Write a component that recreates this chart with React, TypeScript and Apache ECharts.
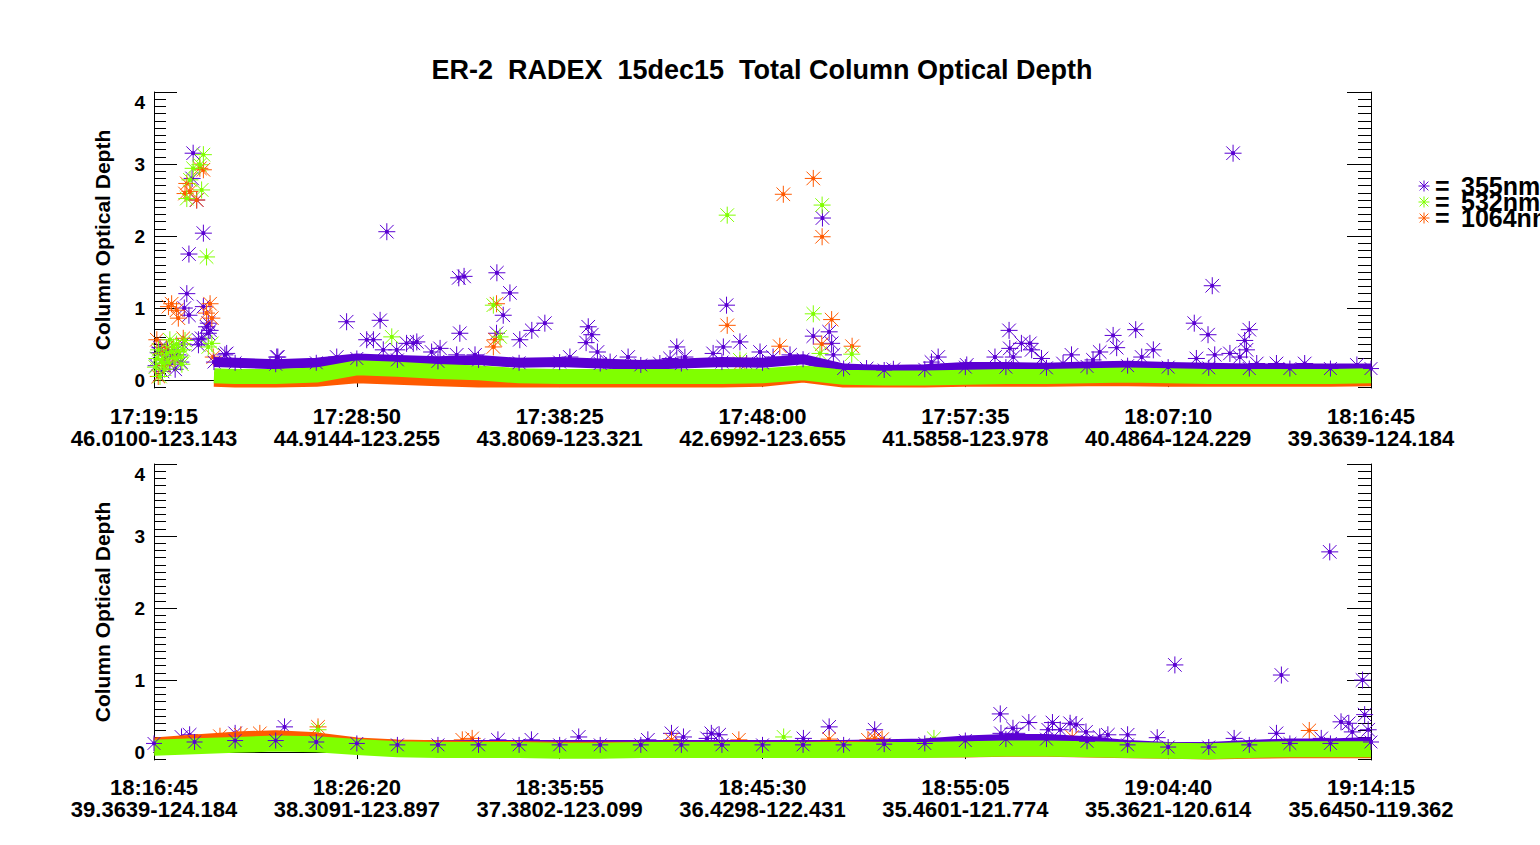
import React, { useEffect, useRef } from 'react';
import * as echarts from 'echarts';

const C355 = '#5a00d2';
const C532 = '#80ff00';
const C1064 = '#ff5a00';
const FONT = '"Liberation Sans", Arial, Helvetica, sans-serif';

const TITLE = 'ER-2  RADEX  15dec15  Total Column Optical Depth';
const Y_NAME = 'Column Optical Depth';
const LEGEND = ['355nm', '532nm', '1064nm'];

// x axis: seconds after panel start, one tick every 575 s
const X_SPAN = 3450;
const X_STEP = 575;
const p1Times = ['17:19:15', '17:28:50', '17:38:25', '17:48:00', '17:57:35', '18:07:10', '18:16:45'];
const p1Locs = ['46.0100-123.143', '44.9144-123.255', '43.8069-123.321', '42.6992-123.655', '41.5858-123.978', '40.4864-124.229', '39.3639-124.184'];
const p2Times = ['18:16:45', '18:26:20', '18:35:55', '18:45:30', '18:55:05', '19:04:40', '19:14:15'];
const p2Locs = ['39.3639-124.184', '38.3091-123.897', '37.3802-123.099', '36.4298-122.431', '35.4601-121.774', '35.3621-120.614', '35.6450-119.362'];

const yMajor = [0, 1, 2, 3, 4];

// dense traces (band centres), panel 1
const p1BandT = [170, 230, 345, 460, 575, 690, 805, 920, 1035, 1150, 1265, 1380, 1495, 1610, 1725, 1840, 1955, 2070, 2185, 2300, 2415, 2530, 2645, 2760, 2875, 2990, 3105, 3220, 3335, 3450];
const p1Band355 = [0.25, 0.24, 0.22, 0.24, 0.3, 0.28, 0.26, 0.28, 0.24, 0.25, 0.23, 0.21, 0.23, 0.25, 0.24, 0.29, 0.16, 0.14, 0.15, 0.18, 0.18, 0.17, 0.19, 0.2, 0.18, 0.17, 0.16, 0.16, 0.16, 0.16];
const p1Band532 = [0.06, 0.05, 0.05, 0.07, 0.17, 0.15, 0.12, 0.1, 0.06, 0.05, 0.05, 0.05, 0.05, 0.05, 0.06, 0.1, 0.04, 0.03, 0.03, 0.04, 0.05, 0.05, 0.06, 0.07, 0.06, 0.05, 0.05, 0.05, 0.05, 0.06];
const p1Band1064 = [0.01, 0.0, 0.0, 0.01, 0.06, 0.04, 0.02, 0.0, 0.0, 0.0, 0.0, 0.0, 0.0, 0.0, 0.01, 0.07, 0.0, 0.0, 0.0, 0.01, 0.01, 0.01, 0.02, 0.02, 0.01, 0.01, 0.01, 0.01, 0.01, 0.02];

// dense traces, panel 2
const p2BandT = [0, 115, 230, 345, 460, 575, 690, 805, 920, 1035, 1150, 1265, 1380, 1495, 1610, 1725, 1840, 1955, 2070, 2185, 2300, 2415, 2530, 2645, 2760, 2875, 2990, 3105, 3220, 3335, 3450];
const p2Band355 = [0.12, 0.14, 0.16, 0.16, 0.14, 0.12, 0.1, 0.1, 0.1, 0.1, 0.1, 0.1, 0.1, 0.1, 0.1, 0.1, 0.1, 0.1, 0.11, 0.12, 0.16, 0.18, 0.18, 0.15, 0.1, 0.07, 0.07, 0.1, 0.12, 0.12, 0.14];
const p2Band532 = [0.06, 0.08, 0.1, 0.12, 0.11, 0.07, 0.04, 0.03, 0.03, 0.03, 0.02, 0.02, 0.03, 0.03, 0.03, 0.03, 0.03, 0.03, 0.03, 0.03, 0.04, 0.05, 0.05, 0.04, 0.03, 0.02, 0.01, 0.03, 0.04, 0.04, 0.04];
const p2Band1064 = [0.1, 0.14, 0.18, 0.2, 0.17, 0.1, 0.07, 0.06, 0.05, 0.05, 0.04, 0.04, 0.04, 0.04, 0.04, 0.04, 0.04, 0.05, 0.04, 0.03, 0.03, 0.04, 0.04, 0.03, 0.02, 0.01, 0.0, 0.01, 0.02, 0.02, 0.02];

// individual points [seconds, optical depth], panel 1
const p1Pts355: [number, number][] = [
  [6, 0.2], [12, 0.38], [17, 0.45], [24, 0.12], [31, 0.3], [38, 0.42], [45, 0.22], [52, 0.33], [60, 0.15], [68, 0.35], [76, 0.25], [82, 0.5],
  [86, 1.0], [93, 1.2], [99, 0.9], [99, 1.75], [108, 2.8], [111, 3.15], [121, 2.5], [126, 0.49], [126, 0.56],
  [135, 0.58], [140, 1.02], [140, 2.04], [149, 0.74], [154, 0.65], [154, 0.79], [159, 0.69],
  [201, 0.35], [206, 0.37], [348, 0.32], [351, 0.32], [518, 0.32], [546, 0.81], [603, 0.56], [622, 0.56],
  [641, 0.83], [650, 0.42], [660, 2.06], [688, 0.42], [716, 0.51], [735, 0.51], [745, 0.53], [787, 0.39],
  [811, 0.44], [858, 0.35], [864, 1.42], [867, 0.65], [879, 1.44], [910, 0.35], [971, 0.65], [972, 1.49],
  [990, 0.9], [1009, 1.21], [1037, 0.56], [1071, 0.69], [1108, 0.79], [1179, 0.32], [1225, 0.52], [1231, 0.74],
  [1241, 0.63], [1257, 0.39], [1293, 0.25], [1344, 0.32], [1434, 0.23], [1463, 0.3], [1482, 0.46], [1505, 0.32],
  [1585, 0.37], [1614, 0.46], [1623, 1.04], [1661, 0.53], [1680, 0.23], [1718, 0.39], [1755, 0.32], [1803, 0.35],
  [1869, 0.61], [1895, 2.25], [1914, 0.67], [1921, 0.51], [1926, 0.35], [2020, 0.16], [2096, 0.15], [2204, 0.25],
  [2223, 0.32], [2304, 0.21], [2384, 0.32], [2424, 0.69], [2426, 0.44], [2436, 0.32], [2459, 0.51], [2483, 0.51],
  [2488, 0.42], [2516, 0.3], [2577, 0.23], [2601, 0.35], [2662, 0.28], [2681, 0.39], [2719, 0.62], [2729, 0.45],
  [2783, 0.7], [2800, 0.32], [2833, 0.42], [2949, 0.79], [2955, 0.3], [2988, 0.63], [3000, 1.31], [3007, 0.35],
  [3050, 0.37], [3059, 3.15], [3078, 0.32], [3092, 0.55], [3097, 0.42], [3105, 0.7], [3126, 0.23], [3182, 0.23],
  [3262, 0.23], [3410, 0.21],
];
const p1Pts532: [number, number][] = [
  [4, 0.18], [8, 0.3], [13, 0.42], [17, 0.05], [21, 0.28], [26, 0.23], [30, 0.15], [36, 0.37], [40, 0.25], [45, 0.56], [50, 0.4], [55, 0.46],
  [60, 0.3], [64, 0.5], [69, 0.4], [74, 0.32], [79, 0.22], [83, 0.42], [88, 0.55], [93, 2.52], [102, 2.78], [111, 2.94], [130, 2.99], [135, 2.64], [140, 3.13],
  [149, 1.71], [154, 0.46], [164, 0.51], [674, 0.6], [962, 1.04], [981, 0.6], [1625, 2.29], [1661, 0.28],
  [1869, 0.92], [1888, 0.37], [1894, 2.43], [1978, 0.36],
];
const p1Pts1064: [number, number][] = [
  [8, 0.56], [12, 0.05], [22, 0.37], [28, 0.2], [35, 0.45], [41, 1.02], [50, 1.06], [57, 0.3], [64, 0.97], [69, 0.86], [83, 0.58], [88, 2.59],
  [93, 2.73], [102, 2.62], [121, 2.5], [130, 2.94], [140, 2.92], [149, 0.93], [159, 1.06], [164, 0.86],
  [168, 0.32], [962, 0.46], [967, 0.56], [971, 1.06], [1625, 0.76], [1661, 0.23], [1774, 0.47], [1784, 2.58],
  [1869, 2.8], [1893, 0.5], [1894, 1.99], [1921, 0.84], [1979, 0.47],
];

// individual points, panel 2
const p2Pts355: [number, number][] = [
  [78, 0.21], [101, 0.24], [230, 0.26], [370, 0.35], [975, 0.17], [1070, 0.17], [1204, 0.21], [1400, 0.17],
  [1467, 0.26], [1501, 0.21], [1568, 0.19], [1580, 0.26], [1602, 0.24], [1841, 0.19], [1914, 0.35], [2043, 0.31],
  [2399, 0.53], [2401, 0.26], [2435, 0.33], [2446, 0.26], [2480, 0.41], [2535, 0.31], [2547, 0.41], [2569, 0.31],
  [2597, 0.4], [2614, 0.38], [2642, 0.28], [2681, 0.21], [2704, 0.24], [2760, 0.24], [2844, 0.2], [2894, 1.21],
  [3062, 0.19], [3182, 0.26], [3196, 1.07], [3309, 0.19], [3333, 2.78], [3365, 0.42], [3387, 0.4], [3397, 0.28],
  [3426, 1.0], [3432, 0.52], [3442, 0.31],
];
const p2Pts532: [number, number][] = [[465, 0.31], [1785, 0.21], [2211, 0.19]];
const p2Pts1064: [number, number][] = [
  [187, 0.22], [246, 0.24], [300, 0.26], [465, 0.35], [874, 0.17], [902, 0.19], [1467, 0.17], [1658, 0.17],
  [1914, 0.18], [2024, 0.17], [2043, 0.19], [2064, 0.18], [2603, 0.21], [3275, 0.3],
];

const STAR = 'path://M0,-10L0,10M-10,0L10,0M-8,-8L8,8M-8,8L8,-8M-1.6,-1.6L1.6,-1.6L1.6,1.6L-1.6,1.6Z';

const Y_MIN = -0.11;
const Y_MAX = 4;
const GRIDS = [
  { left: 154, top: 92, width: 1217, height: 296 },
  { left: 154, top: 464, width: 1217, height: 296 },
];

function buildOption() {
  const minorVals: number[] = [];
  for (let i = -1; i <= 40; i++) minorVals.push(i / 10);

  const black = { color: '#000', width: 1 };
  const xAxis: any[] = [];
  const yAxis: any[] = [];
  const labelsets = [
    [p1Times, p1Locs],
    [p2Times, p2Locs],
  ];
  GRIDS.forEach((_, g) => {
    const [times, locs] = labelsets[g];
    const base = {
      type: 'value', gridIndex: g, min: 0, max: X_SPAN, interval: X_STEP,
      splitLine: { show: false },
      axisLine: { show: true, lineStyle: black },
      axisTick: { show: true, inside: true, length: 7, lineStyle: black },
    };
    xAxis.push({
      ...base, position: 'bottom',
      axisLabel: {
        show: true, showMinLabel: true, showMaxLabel: true, hideOverlap: false,
        margin: g === 0 ? 17 : 16,
        color: '#000', fontFamily: FONT, fontWeight: 'bold', fontSize: 22, lineHeight: 22,
        formatter: (v: number) => {
          const i = Math.round(v / X_STEP);
          return times[i] + '\n' + locs[i];
        },
      },
    });
    xAxis.push({ ...base, position: 'top', axisLabel: { show: false } });

    const yb = { type: 'value', gridIndex: g, min: Y_MIN, max: Y_MAX, splitLine: { show: false } };
    yAxis.push({
      ...yb, position: 'left',
      axisLine: { show: true, lineStyle: black },
      axisTick: { show: true, inside: true, length: 23, lineStyle: black, customValues: yMajor },
      axisLabel: {
        show: true, customValues: yMajor, margin: 9, color: '#000', fontFamily: FONT,
        fontWeight: 'bold', fontSize: 19, lineHeight: 20,
        formatter: (v: number) => (v === 4 ? '\n4' : String(v)),
      },
    });
    yAxis.push({
      ...yb, position: 'left', axisLine: { show: false }, axisLabel: { show: false },
      axisTick: { show: true, inside: true, length: 12, lineStyle: black, customValues: minorVals },
    });
    yAxis.push({
      ...yb, position: 'right', axisLine: { show: true, lineStyle: black }, axisLabel: { show: false },
      axisTick: { show: true, inside: true, length: 24, lineStyle: black, customValues: yMajor },
    });
    yAxis.push({
      ...yb, position: 'right', axisLine: { show: false }, axisLabel: { show: false },
      axisTick: { show: true, inside: true, length: 13, lineStyle: black, customValues: minorVals },
    });
  });

  const band = (g: number, t: number[], v: number[], color: string, width: number, marks: boolean) => ({
    type: 'line', xAxisIndex: g * 2, yAxisIndex: g * 4, silent: true,
    data: t.map((x, i) => [x, v[i]]), symbol: marks ? STAR : 'none', symbolSize: 16, showSymbol: marks, clip: true,
    itemStyle: { color, borderColor: color, borderWidth: 1 },
    lineStyle: { color, width, cap: 'butt', join: 'round' },
    emphasis: { disabled: true },
  });
  const pts = (g: number, d: [number, number][], color: string) => ({
    type: 'scatter', xAxisIndex: g * 2, yAxisIndex: g * 4, silent: true, clip: true,
    data: d, symbol: STAR, symbolSize: 17,
    itemStyle: { color, borderColor: color, borderWidth: 1, opacity: 1 },
    emphasis: { disabled: true },
  });

  const series = [
    band(0, p1BandT, p1Band355, C355, 10, true), pts(0, p1Pts355, C355),
    band(0, p1BandT, p1Band1064, C1064, 15, false), pts(0, p1Pts1064, C1064),
    band(0, p1BandT, p1Band532, C532, 15, false), pts(0, p1Pts532, C532),
    band(1, p2BandT, p2Band355, C355, 10, true), pts(1, p2Pts355, C355),
    band(1, p2BandT, p2Band1064, C1064, 15, false), pts(1, p2Pts1064, C1064),
    band(1, p2BandT, p2Band532, C532, 16, false), pts(1, p2Pts532, C532),
  ];

  const txt = (text: string, x: number, y: number, size: number, align = 'left', rotation = 0) => ({
    type: 'text', x, y, rotation, silent: true,
    style: { text, fill: '#000', fontFamily: FONT, fontWeight: 'bold', fontSize: size, align, verticalAlign: 'middle' },
  });
  const star = (x: number, y: number, color: string) => {
    const r = 5.5;
    const d = 4.4;
    const seg = (x1: number, y1: number, x2: number, y2: number) => ({
      type: 'line', shape: { x1, y1, x2, y2 }, style: { stroke: color, lineWidth: 1 }, silent: true,
    });
    return {
      type: 'group', x, y, silent: true,
      children: [seg(0, -r, 0, r), seg(-r, 0, r, 0), seg(-d, -d, d, d), seg(-d, d, d, -d)],
    };
  };
  const legendColors = [C355, C532, C1064];
  const legendY = [186, 202, 218];
  const graphic: any[] = [
    txt(TITLE, 762, 70, 27, 'center'),
    txt(Y_NAME, 102, 240, 21, 'center', Math.PI / 2),
    txt(Y_NAME, 102, 612, 21, 'center', Math.PI / 2),
  ];
  LEGEND.forEach((name, i) => {
    graphic.push(star(1424, legendY[i], legendColors[i]));
    graphic.push(txt('=', 1435, legendY[i], 25, 'left'));
    graphic.push(txt(name, 1461, legendY[i], 25, 'left'));
  });

  return {
    animation: false,
    backgroundColor: '#fff',
    grid: GRIDS.map((g) => ({ ...g, containLabel: false, outerBoundsMode: 'none' })),
    xAxis,
    yAxis,
    series,
    graphic,
  };
}

export default function App() {
  const ref = useRef<HTMLDivElement>(null);
  useEffect(() => {
    if (!ref.current) return;
    const chart = echarts.init(ref.current, undefined, { renderer: 'svg' });
    chart.setOption(buildOption() as any);
    return () => chart.dispose();
  }, []);
  return (
    <div
      ref={ref}
      style={{ position: 'fixed', left: 0, top: 0, width: 1540, height: 845, background: '#fff' }}
    />
  );
}
